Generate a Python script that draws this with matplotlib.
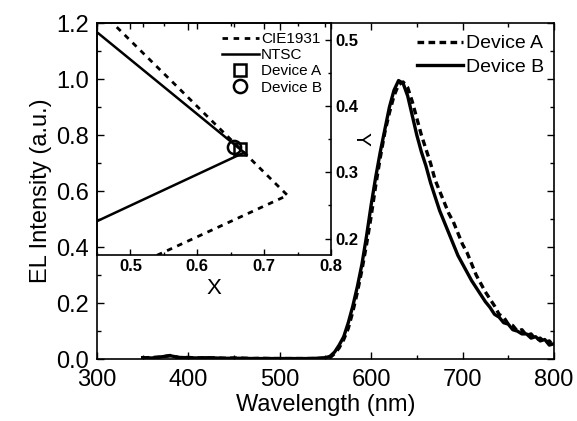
import matplotlib
matplotlib.use("Agg")
import matplotlib.pyplot as plt
from matplotlib.ticker import MultipleLocator, FormatStrFormatter

plt.rcParams['font.family'] = ['Liberation Sans', 'DejaVu Sans']

# ---- EL spectra ----
wl_base = [350, 360, 370, 380, 390, 400, 410, 420, 430, 440, 450, 460, 470,
           480, 490, 500, 510, 520, 530, 540, 550]
base_A = [0.004, 0.006, 0.007, 0.013, 0.005, 0.006, 0.004, 0.005, 0.004, 0.003,
          0.004, 0.003, 0.002, 0.003, 0.002, 0.002, 0.002, 0.002, 0.002, 0.002, 0.003]
base_B = [0.005, 0.004, 0.008, 0.012, 0.006, 0.005, 0.004, 0.005, 0.004, 0.003,
          0.003, 0.003, 0.002, 0.002, 0.002, 0.002, 0.002, 0.002, 0.002, 0.003, 0.005]

wl_peak = [555, 560, 565, 570, 575, 580, 585, 590, 595, 600, 605, 610, 615, 620,
           625, 630, 635, 640, 645, 650, 655, 660, 665, 670, 675, 680, 685, 690,
           695, 700, 705, 710, 715, 720, 725, 730, 735, 740, 745, 750, 755, 760,
           765, 770, 775, 780, 785, 790, 795, 800]
peak_A = [0.005, 0.02, 0.04, 0.07, 0.11, 0.17, 0.24, 0.32, 0.41, 0.51, 0.62, 0.72,
          0.81, 0.88, 0.94, 0.98, 0.99, 0.97, 0.92, 0.86, 0.80, 0.75, 0.70, 0.64,
          0.60, 0.56, 0.52, 0.49, 0.45, 0.41, 0.38, 0.34, 0.30, 0.27, 0.24, 0.215,
          0.19, 0.16, 0.15, 0.125, 0.12, 0.10, 0.105, 0.085, 0.09, 0.07, 0.075,
          0.06, 0.065, 0.045]
peak_B = [0.01, 0.025, 0.05, 0.08, 0.13, 0.19, 0.26, 0.34, 0.44, 0.55, 0.65, 0.74,
          0.82, 0.90, 0.96, 0.995, 0.985, 0.94, 0.87, 0.80, 0.74, 0.69, 0.63, 0.58,
          0.53, 0.49, 0.45, 0.41, 0.37, 0.34, 0.31, 0.28, 0.255, 0.23, 0.205, 0.185,
          0.16, 0.15, 0.13, 0.125, 0.105, 0.10, 0.09, 0.09, 0.075, 0.08, 0.065,
          0.07, 0.05, 0.055]

# ---- CIE inset data ----
cie_x = [0.4441, 0.4788, 0.5125, 0.5448, 0.5752, 0.6029, 0.6270, 0.6482, 0.6658,
         0.6915, 0.7079, 0.7190, 0.7260, 0.7300, 0.7334, 0.7347, 0.1741]
cie_y = [0.5547, 0.5202, 0.4866, 0.4544, 0.4242, 0.3965, 0.3725, 0.3514, 0.3340,
         0.3083, 0.2920, 0.2809, 0.2740, 0.2700, 0.2666, 0.2653, 0.0050]
ntsc_x = [0.21, 0.67, 0.14]
ntsc_y = [0.71, 0.33, 0.08]
devA_xy = (0.664, 0.336)
devB_xy = (0.655, 0.338)

fig = plt.figure(figsize=(5.77, 4.21), dpi=100)
ax = fig.add_axes([0.168, 0.147, 0.792, 0.798])

ax.plot(wl_base + wl_peak, base_A + peak_A, color='black', lw=2.4,
        linestyle=(0, (2.0, 1.3)), label='Device A')
ax.plot(wl_base + wl_peak, base_B + peak_B, color='black', lw=2.4,
        linestyle='-', label='Device B')
ax.set_xlim(300, 800)
ax.set_ylim(0, 1.2)
ax.xaxis.set_major_locator(MultipleLocator(100))
ax.xaxis.set_minor_locator(MultipleLocator(50))
ax.yaxis.set_major_locator(MultipleLocator(0.2))
ax.yaxis.set_minor_locator(MultipleLocator(0.1))
ax.yaxis.set_major_formatter(FormatStrFormatter('%.1f'))
ax.tick_params(which='both', direction='in', top=True, right=True,
               labelsize=17, width=1.0)
ax.tick_params(which='major', length=5)
ax.tick_params(which='minor', length=3)
ax.tick_params(axis='x', which='major', pad=7)
ax.tick_params(axis='y', which='major', pad=6)
for s in ax.spines.values():
    s.set_linewidth(1.2)
ax.set_xlabel('Wavelength (nm)', fontsize=17, labelpad=2)
ax.set_ylabel('EL Intensity (a.u.)', fontsize=17, labelpad=3)
ax.legend(loc='upper right', frameon=False, fontsize=14, handlelength=2.4,
          handletextpad=0.15, borderaxespad=0.3, borderpad=0.3,
          labelspacing=0.3, bbox_to_anchor=(1.005, 1.0))

# ---- inset ----
ins = fig.add_axes([0.168, 0.394, 0.406, 0.552])
ins.set_facecolor('none')
ins.plot(cie_x, cie_y, color='black', lw=2.0, linestyle=(0, (2.0, 2.0)),
         label='CIE1931')
ins.plot(ntsc_x, ntsc_y, color='black', lw=1.8, label='NTSC')
ins.plot([devA_xy[0]], [devA_xy[1]], linestyle='none', marker='s', ms=8.5,
         mfc='none', mec='black', mew=1.8, label='Device A')
ins.plot([devB_xy[0]], [devB_xy[1]], linestyle='none', marker='o', ms=9.5,
         mfc='none', mec='black', mew=1.8, label='Device B')
ins.set_xlim(0.45, 0.8)
ins.set_ylim(0.175, 0.526)
ins.xaxis.set_major_locator(MultipleLocator(0.1))
ins.xaxis.set_minor_locator(MultipleLocator(0.05))
ins.yaxis.set_major_locator(MultipleLocator(0.1))
ins.yaxis.set_minor_locator(MultipleLocator(0.05))
ins.yaxis.tick_right()
ins.yaxis.set_label_position('right')
ins.tick_params(which='both', direction='in', top=True, left=False, right=True,
                labelsize=12, width=1.0, pad=3)
ins.tick_params(which='major', length=4)
ins.tick_params(which='minor', length=2.5)
for lab in ins.get_xticklabels() + ins.get_yticklabels():
    lab.set_fontweight('bold')
for s in ins.spines.values():
    s.set_linewidth(1.2)
ins.set_xlabel('X', fontsize=16, labelpad=3)
ins.set_ylabel('Y', fontsize=15, rotation=270, labelpad=9)
ins.legend(loc='upper right', frameon=False, fontsize=11, handlelength=2.4,
           handletextpad=0.15, borderaxespad=0.4, labelspacing=0.15,
           borderpad=0.2)

fig.savefig('out.png', dpi=100)
